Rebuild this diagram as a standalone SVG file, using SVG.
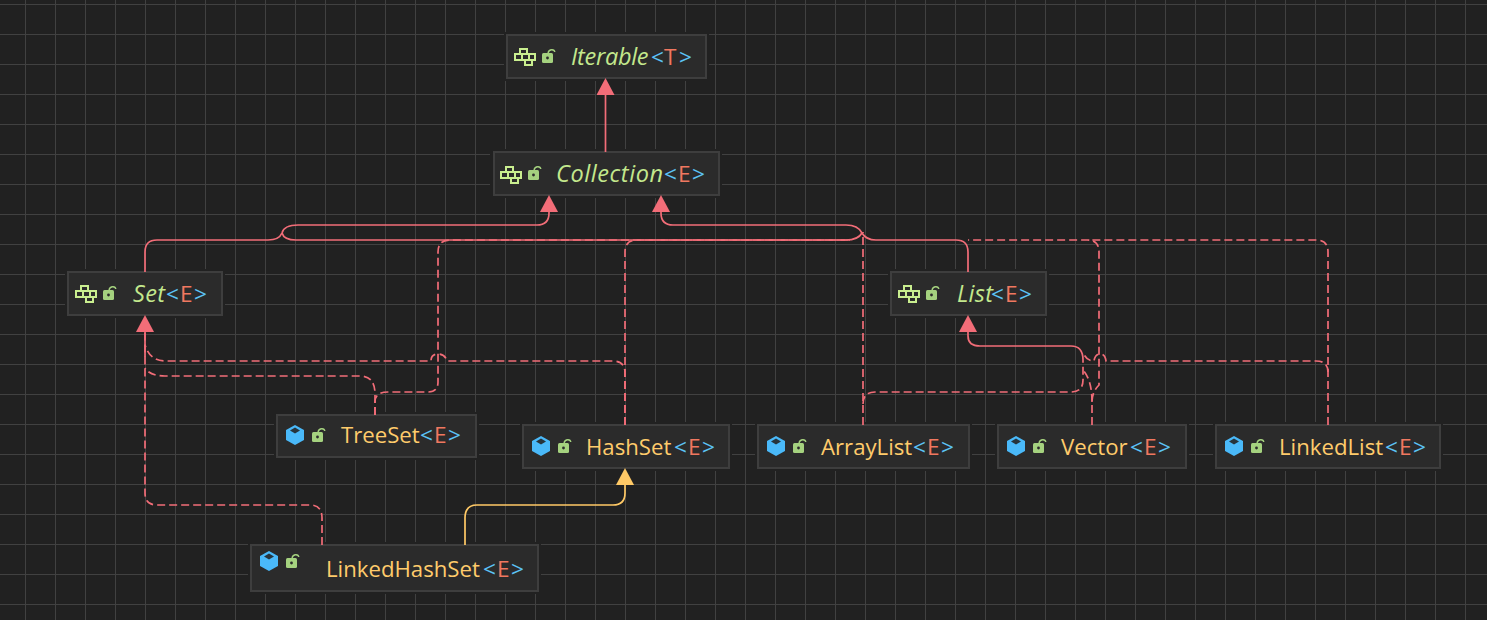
<svg xmlns="http://www.w3.org/2000/svg" width="1487" height="620" viewBox="0 0 1487 620">
<style>
.node{fill:#2b2b2b;stroke:#3e3e3e;stroke-width:2}
.halo{fill:#212121}
.c{fill:none;stroke:#f26d78;stroke-width:1.7}
.d{stroke-dasharray:8 4}
.y{fill:none;stroke:#ffc966;stroke-width:1.7}
text{font-family:"Open Sans","Noto Sans","Liberation Sans",sans-serif;font-size:22.2px}
.i{font-style:italic;fill:#c3e88d;font-size:23.5px;letter-spacing:.3px}
.k{fill:#ffcb6b}
.b{fill:#5cc3f5;font-style:normal;font-size:22.6px;letter-spacing:0}
.p{fill:#f07860;font-style:normal;font-size:22.6px;letter-spacing:0}
.o{fill:none;stroke:#c9ee8f;stroke-width:2}
</style>
<defs>
<pattern id="grid" x="25" y="4" width="30" height="30" patternUnits="userSpaceOnUse">
<path d="M0 0V30M0 0H30" fill="none" stroke="#414141" stroke-width="2"/>
</pattern>
<marker id="ar" markerUnits="userSpaceOnUse" markerWidth="20" markerHeight="20" refX="0" refY="9" orient="auto"><path d="M0 0L17 9L0 18Z" fill="#f26d78"/></marker>
<marker id="ay" markerUnits="userSpaceOnUse" markerWidth="20" markerHeight="20" refX="0" refY="9" orient="auto"><path d="M0 0L17 9L0 18Z" fill="#ffc966"/></marker>
<g id="ifc"><path class="o" d="M6 6V1H13V6M1 6H21V12H1ZM8 6V12M15 6V12M11 12V17H18V12"/></g>
<g id="lock"><rect x="0" y="4" width="11" height="10" rx="1.500" fill="#a5d27f"/><circle cx="5.500" cy="9" r="1.400" fill="#2b2b2b"/><path d="M6 4Q7 .5 10 .8Q12.500 1 12.800 3" fill="none" stroke="#a5d27f" stroke-width="1.400"/></g>
<g id="cube"><path d="M9 0L18 5V15L9 20L0 15V5Z" fill="#4ab9f9"/><path d="M9 2.500L14 5.500L9 8.500L4 5.500Z" fill="#27343c"/></g>
</defs>
<rect width="1487" height="620" fill="#212121"/>
<rect width="1487" height="620" fill="url(#grid)"/>
<g id="iterable"><rect class="halo" x="504" y="32" width="205" height="49"/><rect class="node" x="507" y="35" width="199" height="43"/><use href="#ifc" x="514" y="48"/><use href="#lock" x="542" y="49"/><text class="i" x="571" y="65" style="letter-spacing:-.3px">Iterable<tspan class="b" x="651">&lt;</tspan><tspan class="p" x="664">T</tspan><tspan class="b" x="679">&gt;</tspan></text></g>
<g id="collection"><rect class="halo" x="490" y="149" width="232" height="49"/><rect class="node" x="494" y="152" width="225" height="43"/><use href="#ifc" x="500" y="166"/><use href="#lock" x="528" y="166"/><text class="i" x="556" y="182" style="letter-spacing:.6px">Collection<tspan class="b" x="664">&lt;</tspan><tspan class="p" x="678">E</tspan><tspan class="b" x="692">&gt;</tspan></text></g>
<g id="set"><rect class="halo" x="65" y="269" width="160" height="49"/><rect class="node" x="68" y="272" width="154" height="43"/><use href="#ifc" x="75" y="285"/><use href="#lock" x="103" y="286"/><text class="i" x="133" y="302">Set<tspan class="b" x="166">&lt;</tspan><tspan class="p" x="180">E</tspan><tspan class="b" x="194">&gt;</tspan></text></g>
<g id="list"><rect class="halo" x="888" y="269" width="161" height="49"/><rect class="node" x="891" y="272" width="155" height="43"/><use href="#ifc" x="898" y="285"/><use href="#lock" x="926" y="286"/><text class="i" x="957" y="302">List<tspan class="b" x="991">&lt;</tspan><tspan class="p" x="1005">E</tspan><tspan class="b" x="1019">&gt;</tspan></text></g>
<g id="treeset"><rect class="halo" x="274" y="412" width="205" height="48"/><rect class="node" x="277" y="415" width="199" height="42"/><use href="#cube" x="286" y="425"/><use href="#lock" x="312" y="428"/><text class="k" x="341" y="443">TreeSet<tspan class="b" x="420">&lt;</tspan><tspan class="p" x="434">E</tspan><tspan class="b" x="448">&gt;</tspan></text></g>
<g id="hashset"><rect class="halo" x="520" y="422" width="212" height="49"/><rect class="node" x="523" y="425" width="206" height="43"/><use href="#cube" x="532" y="436"/><use href="#lock" x="558" y="439"/><text class="k" x="586" y="455">HashSet<tspan class="b" x="674">&lt;</tspan><tspan class="p" x="688">E</tspan><tspan class="b" x="702">&gt;</tspan></text></g>
<g id="arraylist"><rect class="halo" x="755" y="422" width="217" height="49"/><rect class="node" x="758" y="425" width="211" height="43"/><use href="#cube" x="767" y="436"/><use href="#lock" x="793" y="439"/><text class="k" x="821" y="455">ArrayList<tspan class="b" x="913">&lt;</tspan><tspan class="p" x="927">E</tspan><tspan class="b" x="941">&gt;</tspan></text></g>
<g id="vector"><rect class="halo" x="995" y="422" width="194" height="49"/><rect class="node" x="998" y="425" width="188" height="43"/><use href="#cube" x="1007" y="436"/><use href="#lock" x="1033" y="439"/><text class="k" x="1061" y="455">Vector<tspan class="b" x="1130">&lt;</tspan><tspan class="p" x="1144">E</tspan><tspan class="b" x="1158">&gt;</tspan></text></g>
<g id="linkedlist"><rect class="halo" x="1213" y="422" width="230" height="49"/><rect class="node" x="1216" y="425" width="224" height="43"/><use href="#cube" x="1225" y="436"/><use href="#lock" x="1251" y="439"/><text class="k" x="1279" y="455">LinkedList<tspan class="b" x="1385">&lt;</tspan><tspan class="p" x="1399">E</tspan><tspan class="b" x="1413">&gt;</tspan></text></g>
<g id="linkedhashset"><rect class="halo" x="248" y="542" width="293" height="52"/><rect class="node" x="251" y="545" width="287" height="46"/><use href="#cube" x="260" y="551"/><use href="#lock" x="286" y="554"/><text class="k" x="326" y="577">LinkedHashSet<tspan class="b" x="483">&lt;</tspan><tspan class="p" x="497">E</tspan><tspan class="b" x="511">&gt;</tspan></text></g>
<g id="connectors">
<path class="c" marker-end="url(#ar)" d="M605.500 152V95"/>
<path class="c" marker-end="url(#ar)" d="M145 272V252Q145 240 157 240H268Q279 240 282 233Q284 225 298 225H537Q549 225 549 213V212"/>
<path class="c" d="M862 233Q858 240 846 240H296Q284 240 282 233"/>
<path class="c" marker-end="url(#ar)" d="M968 272V252Q968 240 956 240H876Q866 240 862 233Q858 225 846 225H673Q661 225 661 213V212"/>
<path class="c d" d="M375 415V402Q375 392 388 392H428Q438 392 438 382V252Q438 240 450 240H850"/>
<path class="c d" d="M625 425V252Q625 240 637 240H850"/>
<path class="c d" d="M863 425V232"/>
<path class="c d" d="M1092 425V402Q1092 392 1099 385V252Q1099 240 1087 240H968"/>
<path class="c d" d="M1328 425V252Q1328 240 1316 240H1090"/>
<path class="c d" d="M625 425V373Q625 361 613 361H447Q445 354 438 354Q431 354 431 361H165Q150 361 145 345"/>
<path class="c d" d="M375 415V394Q375 376 360 376H165Q150 376 145 368"/>
<path class="c d" d="M322 545V518Q322 505 310 505H157Q145 505 145 493V333"/>
<path class="c" marker-end="url(#ar)" d="M145 357V332"/>
<path class="c d" d="M863 404Q863 392 875 392H1071Q1083 392 1083 380V360"/>
<path class="c" marker-end="url(#ar)" d="M1083 360Q1083 346 1071 346H980Q968 346 968 336V332"/>
<path class="c d" d="M1092 402Q1092 380 1083 370"/>
<path class="c d" d="M1328 372Q1328 361 1316 361H1106Q1105 354 1100 354Q1095 354 1094 361Q1086 361 1083 352"/>
<path class="y" marker-end="url(#ay)" d="M465 545V518Q465 505 477 505H613Q625 505 625 493V485"/>
</g>
</svg>
